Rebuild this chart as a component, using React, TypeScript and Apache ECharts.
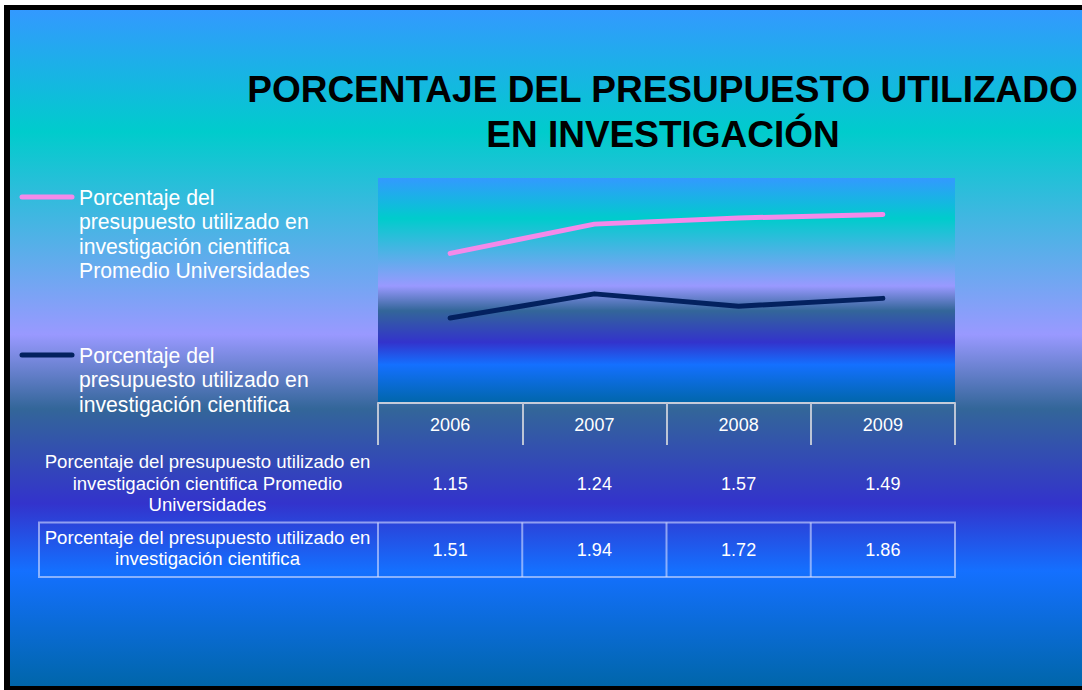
import React, { useEffect, useRef } from 'react';
import * as echarts from 'echarts';

// ---- data ----
const years = ['2006', '2007', '2008', '2009'];
const promedioUniv = [1.15, 1.24, 1.57, 1.49];
const investigacion = [1.51, 1.94, 1.72, 1.86];

const titleLines = ['PORCENTAJE DEL PRESUPUESTO UTILIZADO', 'EN INVESTIGACIÓN'];
const nameProm = 'Porcentaje del presupuesto utilizado en investigación cientifica Promedio Universidades';
const nameInv = 'Porcentaje del presupuesto utilizado en investigación cientifica';
const legendPromLines = ['Porcentaje del', 'presupuesto utilizado en', 'investigación cientifica', 'Promedio Universidades'];
const legendInvLines = ['Porcentaje del', 'presupuesto utilizado en', 'investigación cientifica'];
const tablePromLines = ['Porcentaje del presupuesto utilizado en', 'investigación cientifica Promedio', 'Universidades'];
const tableInvLines = ['Porcentaje del presupuesto utilizado en', 'investigación cientifica'];

const PINK = '#F48AEA';
const NAVY = '#03215F';
const FONT = '"Liberation Sans", Arial, Helvetica, sans-serif';
const TABLE_BORDER = 'rgba(215,222,255,0.6)';

function skyGradient() {
  return new echarts.graphic.LinearGradient(0, 0, 0, 1, [
    { offset: 0, color: '#3399FF' },
    { offset: 0.18, color: '#00CCCC' },
    { offset: 0.48, color: '#9999FF' },
    { offset: 0.59, color: '#336699' },
    { offset: 0.73, color: '#3333CC' },
    { offset: 0.83, color: '#1470FF' },
    { offset: 1, color: '#0066AA' },
  ]);
}

export default function App() {
  const ref = useRef<HTMLDivElement>(null);

  useEffect(() => {
    if (!ref.current) return;
    const chart = echarts.init(ref.current, undefined, { renderer: 'svg' });

    const option: any = {
      animation: false,
      backgroundColor: '#ffffff',
      grid: {
        left: 378,
        right: 127,
        top: 178,
        bottom: 287,
        show: true,
        backgroundColor: skyGradient(),
        borderWidth: 0,
        containLabel: false,
      },
      xAxis: {
        type: 'category',
        data: years,
        boundaryGap: true,
        axisLine: { show: true, lineStyle: { color: '#C5CCDA', width: 2 } },
        axisTick: { show: true, interval: 0, length: 42, lineStyle: { color: '#BCC5D6', width: 2 } },
        axisLabel: { color: '#ffffff', fontSize: 18, fontFamily: FONT, margin: 13, interval: 0 },
        splitLine: { show: false },
      },
      yAxis: { type: 'value', min: 0, max: 4, show: false, splitLine: { show: false } },
      series: [
        {
          name: nameInv,
          type: 'line',
          stack: 'total',
          data: investigacion,
          symbol: 'none',
          lineStyle: { color: NAVY, width: 5, cap: 'round', join: 'round' },
          itemStyle: { color: NAVY },
        },
        {
          name: nameProm,
          type: 'line',
          stack: 'total',
          data: promedioUniv,
          symbol: 'none',
          lineStyle: { color: PINK, width: 5, cap: 'round', join: 'round' },
          itemStyle: { color: PINK },
        },
      ],
    };
    chart.setOption(option);

    const centers = years.map((_, i) => chart.convertToPixel({ xAxisIndex: 0 }, i) as number);
    const half = (centers[1] - centers[0]) / 2;
    const tableLeft = centers[0] - half;
    const tableRight = centers[centers.length - 1] + half;

    const txt = (x: number, y: number, text: string, extra: any = {}) => ({
      type: 'text',
      x,
      y,
      z: 100,
      style: {
        text,
        fill: '#ffffff',
        fontSize: 18,
        fontFamily: FONT,
        align: 'center',
        verticalAlign: 'middle',
        ...extra,
      },
    });

    const graphics: any[] = [
      { type: 'rect', z: -100, shape: { x: 4, y: 5, width: 1078, height: 685 }, style: { fill: '#000000' } },
      { type: 'rect', z: -99, shape: { x: 10, y: 10, width: 1072, height: 676 }, style: { fill: skyGradient() } },
      // title
      txt(662.5, 89, titleLines[0], { fill: '#000000', fontSize: 37, fontWeight: 'bold' }),
      txt(663, 134, titleLines[1], { fill: '#000000', fontSize: 37, fontWeight: 'bold' }),
      // legend
      {
        type: 'line', z: 100,
        shape: { x1: 22, y1: 197, x2: 72, y2: 197 },
        style: { stroke: PINK, lineWidth: 5, lineCap: 'round' },
      },
      txt(79, 185, legendPromLines.join('\n'), { fontSize: 21.2, align: 'left', verticalAlign: 'top', lineHeight: 24.4 }),
      {
        type: 'line', z: 100,
        shape: { x1: 22, y1: 355, x2: 72, y2: 355 },
        style: { stroke: NAVY, lineWidth: 5, lineCap: 'round' },
      },
      txt(79, 343, legendInvLines.join('\n'), { fontSize: 21.2, align: 'left', verticalAlign: 'top', lineHeight: 24.4 }),
      // table row 1
      txt(207.5, 483, tablePromLines.join('\n'), { fontSize: 18.6, lineHeight: 21.5 }),
      // table row 2 borders
      {
        type: 'rect', z: 100,
        shape: { x: 39, y: 522.5, width: tableRight - 39, height: 54.5 },
        style: { fill: 'none', stroke: TABLE_BORDER, lineWidth: 2 },
      },
      txt(207.5, 548, tableInvLines.join('\n'), { fontSize: 18.6, lineHeight: 21.5 }),
    ];

    years.forEach((_, i) => {
      graphics.push(txt(centers[i], 483.5, promedioUniv[i].toFixed(2)));
      graphics.push(txt(centers[i], 549.5, investigacion[i].toFixed(2)));
      const bx = tableLeft + i * 2 * half;
      graphics.push({
        type: 'line', z: 100,
        shape: { x1: bx, y1: 522.5, x2: bx, y2: 577 },
        style: { stroke: TABLE_BORDER, lineWidth: 2 },
      });
    });

    chart.setOption({ graphic: graphics });

    return () => chart.dispose();
  }, []);

  return <div ref={ref} style={{ position: 'fixed', left: 0, top: 0, width: 1082, height: 690 }} />;
}
